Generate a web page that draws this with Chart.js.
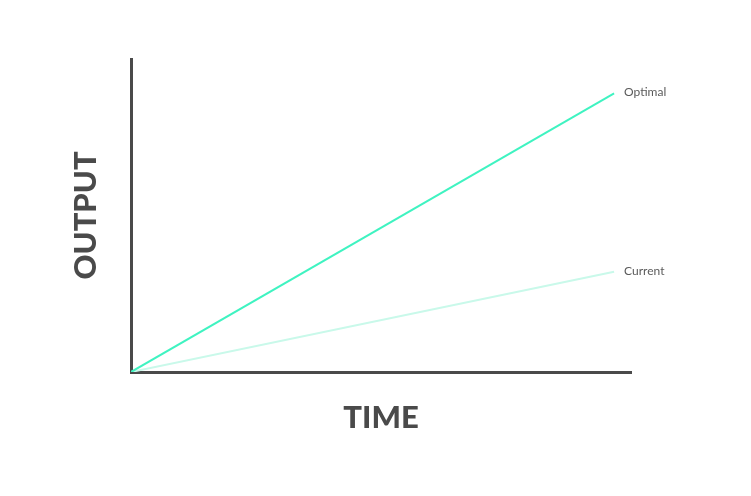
<!DOCTYPE html>
<html>
<head>
<meta charset="utf-8">
<script src="https://cdn.jsdelivr.net/npm/chart.js@4"></script>
<style>
  html, body { margin: 0; padding: 0; background: #fff; }
  #wrap { width: 751px; height: 496px; }
</style>
</head>
<body>
<div id="wrap"><canvas id="myChart"></canvas></div>
<script>
// data
const times = [0, 100];
const optimal = [0, 89];
const current = [0, 32];
const seriesNames = ['Optimal', 'Current'];

const axisColor = '#4a4a4a';

function pairs(x, y) {
    const data = [];
    for (let i = 0; i < x.length; i++) {
        data.push({ x: x[i], y: y[i] });
    }
    return data;
}

// puts the series name to the right of each line's last point
const endLabels = {
    id: 'endLabels',
    afterDatasetsDraw(chart) {
        const ctx = chart.ctx;
        ctx.save();
        ctx.font = '12px Lato';
        ctx.fillStyle = '#5a5a5a';
        ctx.textBaseline = 'middle';
        chart.data.datasets.forEach(function (ds, i) {
            const meta = chart.getDatasetMeta(i);
            const last = meta.data[meta.data.length - 1];
            ctx.fillText(ds.label, last.x + 10, last.y - 1);
        });
        ctx.restore();
    }
};

const ctx = document.getElementById('myChart');
new Chart(ctx, {
    type: 'line',
    data: {
        datasets: [{
            label: seriesNames[0],
            data: pairs(times, optimal),
            borderColor: '#3ff3c1',
            borderWidth: 2,
            pointRadius: 0
        }, {
            label: seriesNames[1],
            data: pairs(times, current),
            borderColor: '#c9f9ea',
            borderWidth: 2,
            pointRadius: 0
        }]
    },
    options: {
        responsive: true,
        maintainAspectRatio: false,
        animation: false,
        layout: { padding: { top: 59, right: 120, bottom: 0, left: 0 } },
        plugins: { legend: { display: false }, tooltip: { enabled: false } },
        scales: {
            x: {
                type: 'linear',
                min: 0,
                max: 103.5,
                ticks: { display: false },
                grid: { display: false, drawTicks: false },
                border: { color: axisColor, width: 3 },
                title: {
                    display: true,
                    text: 'TIME',
                    color: axisColor,
                    font: { family: 'Lato', weight: '900', size: 31, lineHeight: 1 },
                    padding: { top: 30, bottom: 63 }
                }
            },
            y: {
                min: 0,
                max: 100,
                ticks: { display: false },
                grid: { display: false, drawTicks: false },
                border: { color: axisColor, width: 3 },
                title: {
                    display: true,
                    text: 'OUTPUT',
                    color: axisColor,
                    font: { family: 'Lato', weight: '900', size: 31, lineHeight: 1 },
                    padding: { top: 70, bottom: 30 }
                }
            }
        }
    },
    plugins: [endLabels]
});
</script>
</body>
</html>
